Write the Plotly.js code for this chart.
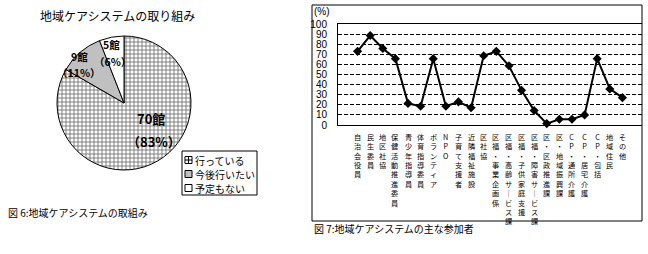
<!DOCTYPE html>
<html>
<head>
<meta charset="utf-8">
<script src="https://cdn.plot.ly/plotly-3.0.1.min.js"></script>
<style>
  html, body { margin: 0; padding: 0; background: #ffffff; }
  #chart { width: 648px; height: 254px; }
</style>
</head>
<body>
<div id="chart"></div>
<script>
// --- Pie: 地域ケアシステムの取り組み ---
const pieLabels = ['行っている', '今後行いたい', '予定もない'];
const pieCounts = [70, 9, 5];

// --- Line: 地域ケアシステムの主な参加者 (%) ---
const participants = [
  '自治会役員', '民生委員', '地区社協', '保健活動推進委員', '青少年指導員',
  '体育指導委員', 'ボランティア', 'NPO', '子育て支援者', '近隣福祉施設',
  '区社協', '区福・事業企画係', '区福・高齢サービス課', '区福・子供家庭支援',
  '区福・障害サービス課', '区・区政推進課', '区・地域振興課', 'CP・通所介護',
  'CP・居宅介護', 'CP・包括', '地域住民', 'その他'
];
const participantPct = [
  72.9, 88.6, 75.7, 65.7, 21.4, 18.6, 65.7, 18.6, 22.9, 17.1, 68.6,
  72.9, 58.6, 34.3, 14.3, 1.4, 5.7, 5.7, 10.0, 65.7, 35.7, 27.1
];
const yTicks = [0, 10, 20, 30, 40, 50, 60, 70, 80, 90, 100];

const W = 648, H = 254;
const px = v => v / W;          // horizontal pixel -> paper
const py = v => 1 - v / H;      // vertical pixel -> paper

const JP = '"Noto Sans CJK JP", "Noto Sans", sans-serif';
const NUM = '"Liberation Sans", Arial, sans-serif';

const total = pieCounts.reduce((a, b) => a + b, 0);
const piePct = pieCounts.map(c => Math.round(c / total * 100));

const pieTrace = {
  type: 'pie',
  labels: pieLabels,
  values: pieCounts,
  sort: false,
  direction: 'clockwise',
  rotation: 0,
  textinfo: 'none',
  hoverinfo: 'label+value+percent',
  showlegend: false,
  domain: { x: [px(57), px(191)], y: [py(170), py(36)] },
  marker: {
    colors: ['#ffffff', '#c0c0c0', '#ffffff'],
    line: { color: '#000000', width: 1 },
    pattern: {
      shape: ['+', '', ''],
      fgcolor: '#808080',
      bgcolor: '#ffffff',
      size: 4,
      solidity: 0.44
    }
  }
};

const lineTrace = {
  type: 'scatter',
  mode: 'lines+markers',
  x: participants,
  y: participantPct,
  xaxis: 'x',
  yaxis: 'y',
  showlegend: false,
  line: { color: '#000000', width: 2 },
  marker: { symbol: 'diamond', size: 7, color: '#000000' },
  cliponaxis: false
};

const annotations = [];
const shapes = [];

// helper for text placed in page pixels
function label(x, y, text, size, family, xanchor) {
  return {
    xref: 'paper', yref: 'paper', x: px(x), y: py(y),
    xanchor: xanchor || 'center', yanchor: 'middle',
    text: text, showarrow: false, borderpad: 0,
    font: { family: family || JP, size: size, color: '#000' }
  };
}

// pie title
annotations.push(label(117, 15, '地域ケアシステムの取り組み', 12));

// slice labels: count line and percentage line, one text each
const sliceLabelPos = [
  // [x count, y count, x pct, y pct, font size]
  [151, 118, 154, 141, 13],
  [79, 56.5, 79, 72.5, 10.5],
  [111, 44.5, 112, 61, 10.5]
];
pieCounts.forEach((c, i) => {
  const p = sliceLabelPos[i];
  annotations.push(label(p[0], p[1], '<b>' + c + '館</b>', p[4]));
  annotations.push(label(p[2], p[3], '<b>（' + piePct[i] + '%）</b>', p[4]));
});
annotations.push(label(7, 212, '図 6:地域ケアシステムの取組み', 10, JP, 'left'));

// pie legend
shapes.push({ type: 'rect', xref: 'paper', yref: 'paper',
  x0: px(182), x1: px(257), y0: py(195), y1: py(151),
  line: { color: '#000', width: 1 }, fillcolor: '#ffffff', layer: 'above' });
const legendY = [160, 174, 188];
const legendFill = ['#ffffff', '#c0c0c0', '#ffffff'];
pieLabels.forEach((lab, i) => {
  const cy = legendY[i];
  shapes.push({ type: 'rect', xref: 'paper', yref: 'paper',
    x0: px(185), x1: px(192), y0: py(cy + 3.5), y1: py(cy - 3.5),
    line: { color: '#000', width: 1 }, fillcolor: legendFill[i], layer: 'above' });
  if (i === 0) {
    shapes.push({ type: 'line', xref: 'paper', yref: 'paper',
      x0: px(188.5), x1: px(188.5), y0: py(cy + 3.5), y1: py(cy - 3.5),
      line: { color: '#000', width: 1 }, layer: 'above' });
    shapes.push({ type: 'line', xref: 'paper', yref: 'paper',
      x0: px(185), x1: px(192), y0: py(cy), y1: py(cy),
      line: { color: '#000', width: 1 }, layer: 'above' });
  }
  annotations.push(label(194, cy, lab, 10, JP, 'left'));
});

// line chart frame, unit label and caption
shapes.push({ type: 'rect', xref: 'paper', yref: 'paper',
  x0: px(312), x1: px(642), y0: py(221), y1: py(5),
  line: { color: '#000', width: 1 }, fillcolor: 'rgba(0,0,0,0)', layer: 'above' });
annotations.push(label(313, 11, '(%)', 10, NUM, 'left'));
annotations.push(label(313, 228, '図 7:地域ケアシステムの主な参加者', 10, JP, 'left'));

// vertical category labels: one character per line, stacked under each point
participants.forEach(name => {
  const stacked = Array.from(name).map(ch => (ch === 'ー' ? '｜' : ch)).join('<br>');
  annotations.push({
    xref: 'x', yref: 'paper', x: name, y: py(131),
    xanchor: 'center', yanchor: 'top',
    text: stacked, showarrow: false, borderpad: 0,
    font: { family: JP, size: 7.2, color: '#000' }
  });
});

const layout = {
  width: W, height: H,
  margin: { l: 0, r: 0, t: 0, b: 0, pad: 0 },
  paper_bgcolor: '#ffffff',
  plot_bgcolor: '#ffffff',
  showlegend: false,
  xaxis: {
    domain: [px(338), px(642)],
    anchor: 'y',
    type: 'category',
    showticklabels: false,
    showgrid: false,
    showline: true, linecolor: '#000', linewidth: 1,
    mirror: true,
    ticks: '',
    zeroline: false,
    fixedrange: true
  },
  yaxis: {
    domain: [py(125), py(24)],
    anchor: 'x',
    range: [0, 100],
    tickvals: yTicks,
    ticktext: yTicks.map(String),
    ticks: '',
    ticklabelstandoff: 8,
    tickfont: { family: NUM, size: 10, color: '#000' },
    showgrid: true, gridcolor: '#000', gridwidth: 1, griddash: '4px,2px',
    showline: true, linecolor: '#000', linewidth: 1,
    zeroline: false,
    fixedrange: true
  },
  annotations: annotations,
  shapes: shapes
};

Plotly.newPlot('chart', [pieTrace, lineTrace], layout, { staticPlot: true, displayModeBar: false });
</script>
</body>
</html>
